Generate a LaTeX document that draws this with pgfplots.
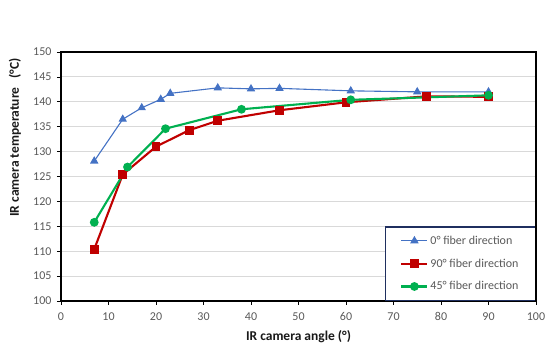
\documentclass[border=0pt]{standalone}
\usepackage{fontspec}
\setmainfont{Carlito}
\usepackage{pgfplots}
\pgfplotsset{compat=1.18}
\definecolor{cblue}{HTML}{4472C4}
\definecolor{cred}{HTML}{C00000}
\definecolor{cgreen}{HTML}{00B050}
\definecolor{tickgray}{HTML}{595959}
\definecolor{gridgray}{HTML}{D9D9D9}
\definecolor{navy}{HTML}{1F2F5F}
\begin{document}
\begin{tikzpicture}
\begin{axis}[
  name=ax,
  at={(0,0)}, anchor=south west,
  scale only axis, width=475pt, height=249pt,
  xmin=0, xmax=100, ymin=100, ymax=150,
  clip=false,
  xtick={0,10,...,100}, ytick={100,105,...,150},
  xtick pos=left, ytick pos=left,
  tick align=outside, major tick length=4pt,
  every tick/.style={black, line width=0.8pt},
  axis line style={black, line width=1.4pt},
  ymajorgrids, grid style={gridgray, line width=0.9pt},
  /pgf/number format/assume math mode=true,
  tick label style={font=\fontsize{12}{14}\selectfont, text=tickgray},
  xticklabel style={yshift=-4pt},
  yticklabel style={xshift=-2pt},
  xlabel={IR camera angle (°)},
  ylabel={IR camera temperature\ \ \ (°C)},
  label style={font=\fontsize{13.5}{16}\selectfont\bfseries, text=black!90},
  xlabel style={at={(axis description cs:0.5,-0.145)}, anchor=center},
  ylabel style={at={(axis description cs:-0.097,0.657)}, anchor=center},
  legend cell align=left,
  legend image code/.code={\draw[mark repeat=2,mark phase=2,#1] plot coordinates {(0pt,0pt) (13pt,0pt) (26pt,0pt)};},
  legend style={at={(1,0)}, anchor=south east, draw=navy, line width=1.2pt,
    font=\fontsize{12}{14}\selectfont, text=tickgray, inner xsep=15pt, inner ysep=7pt,
    row sep=9pt, /tikz/every even column/.append style={column sep=2pt}},
]
\addplot[cblue, line width=1.1pt, mark=triangle*, mark size=3.8pt, mark options={solid}] coordinates {
(7,128.1) (13,136.5) (17,138.8) (21,140.5) (23,141.7) (33,142.8) (40,142.6) (46,142.7) (61,142.2) (75,142.0) (90,142.0)};
\addlegendentry{0° fiber direction}
\addplot[cred, line width=2.1pt, mark=square*, mark size=3.3pt, mark options={solid}] coordinates {
(7,110.4) (13,125.4) (20,131.0) (27,134.3) (33,136.2) (46,138.3) (60,139.9) (77,141.1) (90,141.0)};
\addlegendentry{90° fiber direction}
\addplot[cgreen, line width=2.1pt, mark=*, mark size=3.3pt, mark options={solid}] coordinates {
(7,115.8) (14,126.9) (22,134.6) (38,138.5) (61,140.4) (90,141.3)};
\addlegendentry{45° fiber direction}
\end{axis}
\draw[black, line width=1.6pt] (ax.north west) -- (ax.north east) -- (ax.south east);
\pgfresetboundingbox
\path[use as bounding box] (-61pt,-63pt) rectangle (496pt,301pt);
\end{tikzpicture}
\end{document}
